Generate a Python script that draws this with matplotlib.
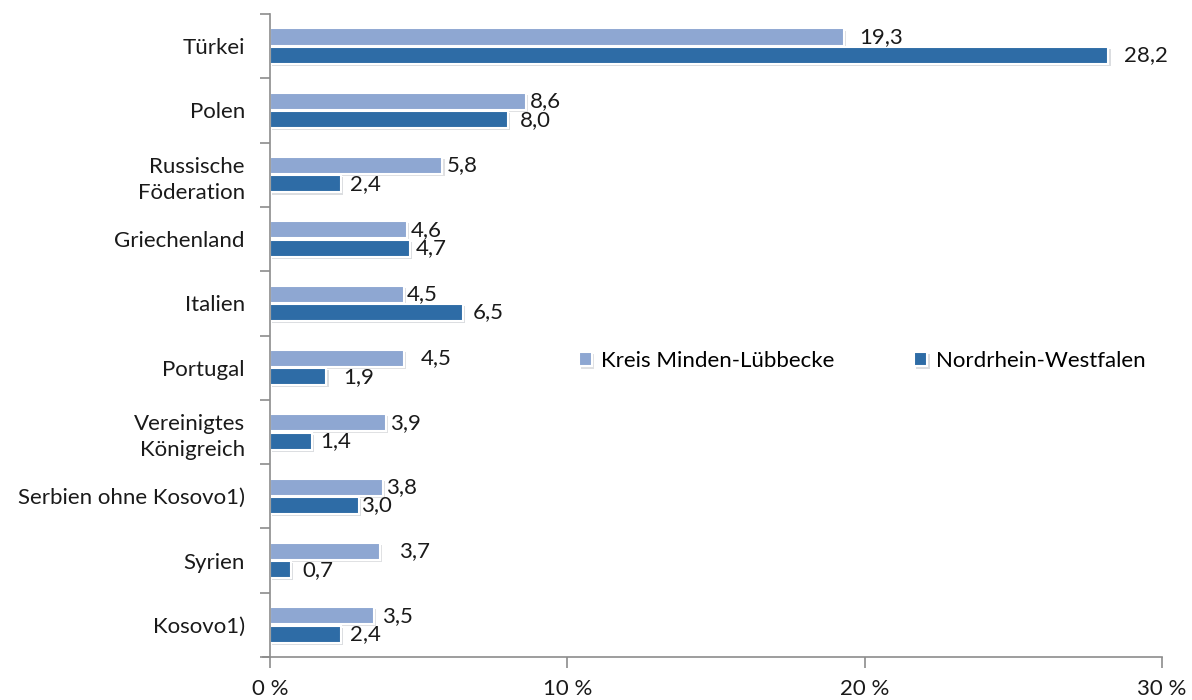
import matplotlib.pyplot as plt
import matplotlib.patheffects as pe
import numpy as np
from matplotlib.ticker import FixedLocator

plt.rcParams['font.family'] = ['Lato', 'DejaVu Sans']

categories = ['Türkei', 'Polen', 'Russische\nFöderation', 'Griechenland', 'Italien',
              'Portugal', 'Vereinigtes\nKönigreich', 'Serbien ohne Kosovo1)', 'Syrien', 'Kosovo1)']
minden = [19.3, 8.6, 5.8, 4.6, 4.5, 4.5, 3.9, 3.8, 3.7, 3.5]
nrw = [28.2, 8.0, 2.4, 4.7, 6.5, 1.9, 1.4, 3.0, 0.7, 2.4]
series_names = ['Kreis Minden-Lübbecke', 'Nordrhein-Westfalen']
xticks = [0, 10, 20, 30]
xtick_labels = ['0 %', '10 %', '20 %', '30 %']

# label x offsets in points (as placed in the original)
off_minden = [11, 3, 3, 3, 2, 12, 3, 2, 14, 6]
off_nrw = [11, 9, 6, 4, 7, 12, 6, 1, 8, 6]

c_light = '#8EA7D2'
c_dark = '#2E6CA6'
grey = '#8C8C8C'

fig = plt.figure(figsize=(11.92, 7), dpi=100)
ax = fig.add_axes([0.2265, 0.0614, 0.7483, 0.9186])

y = np.arange(len(categories))
h = 0.265
shadow = [pe.SimplePatchShadow(offset=(1.5, -1.5), alpha=0.15), pe.Normal()]
b1 = ax.barh(y - h / 2 - 0.01, minden, height=h, color=c_light, edgecolor='white', lw=1.5,
             label=series_names[0], path_effects=shadow)
b2 = ax.barh(y + h / 2 + 0.01, nrw, height=h, color=c_dark, edgecolor='white', lw=1.5,
             label=series_names[1], path_effects=shadow)

for i in range(len(categories)):
    ax.annotate(f'{minden[i]:.1f}'.replace('.', ','), (minden[i], y[i] - h / 2 - 0.01),
                xytext=(off_minden[i], 0), textcoords='offset points',
                va='center', ha='left', fontsize=16, color='#1a1a1a')
    ax.annotate(f'{nrw[i]:.1f}'.replace('.', ','), (nrw[i], y[i] + h / 2 + 0.01),
                xytext=(off_nrw[i], 0), textcoords='offset points',
                va='center', ha='left', fontsize=16, color='#1a1a1a')

ax.set_xlim(0, 30)
ax.set_ylim(len(categories) - 0.5, -0.5)
ax.set_xticks(xticks)
ax.set_xticklabels(xtick_labels, fontsize=16)
ax.set_yticks(y)
ax.set_yticklabels(categories, fontsize=16, linespacing=1.4)
ax.yaxis.set_minor_locator(FixedLocator(np.arange(-0.5, len(categories), 1.0)))
ax.tick_params(axis='y', which='major', length=0, pad=18)
ax.tick_params(axis='y', which='minor', length=7, color=grey, width=1.2)
ax.tick_params(axis='x', length=8, color=grey, width=1.2, pad=8)
ax.tick_params(axis='y', labelcolor='#1a1a1a')
ax.tick_params(axis='x', labelcolor='#1a1a1a')
for s in ['top', 'right']:
    ax.spines[s].set_visible(False)
for s in ['left', 'bottom']:
    ax.spines[s].set_color(grey)
    ax.spines[s].set_linewidth(1.2)
ax.spines['bottom'].set_bounds(-0.25, 30)

ax.legend(loc='center', bbox_to_anchor=(0.664, 0.46), ncol=2, frameon=False, fontsize=16,
          handlelength=0.6, handleheight=0.6, handletextpad=0.4, columnspacing=3.6)

fig.savefig('out.png', dpi=100)
